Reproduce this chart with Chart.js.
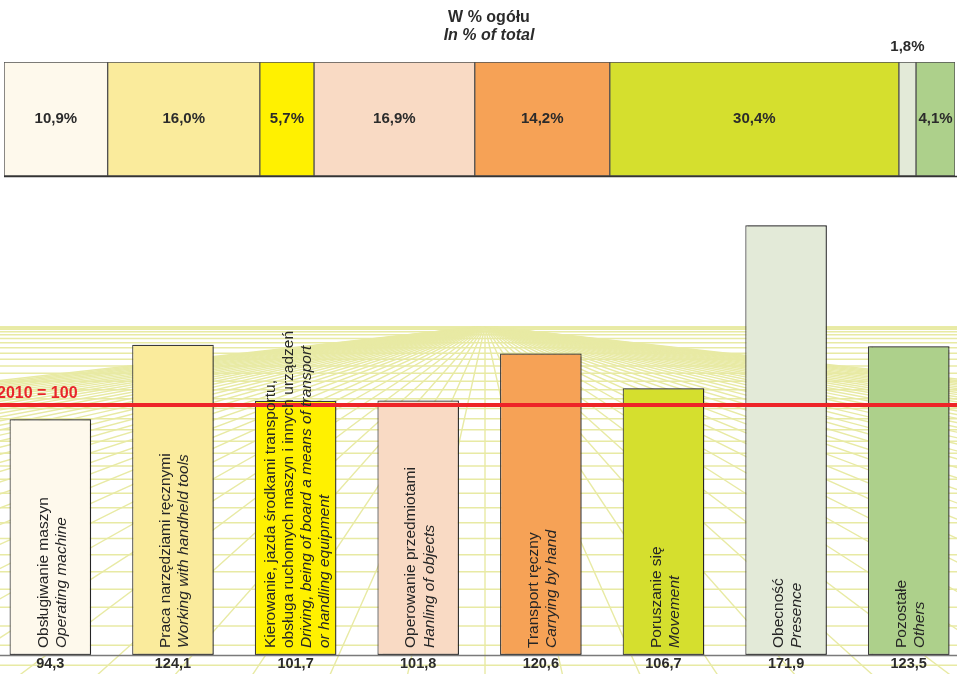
<!DOCTYPE html>
<html>
<head>
<meta charset="utf-8">
<script src="https://cdn.jsdelivr.net/npm/chart.js@4.4.1/dist/chart.umd.min.js"></script>
<style>
  html, body { margin: 0; padding: 0; background: #fff; overflow: hidden; }
  body { width: 957px; height: 674px; position: relative; }
  #topBox { position: absolute; left: 0; top: 0; width: 957px; height: 190px; }
  #botBox { position: absolute; left: -11px; top: 190px; width: 981px; height: 484px; }
</style>
</head>
<body>
<div id="topBox"><canvas id="share-chart"></canvas></div>
<div id="botBox"><canvas id="index-chart"></canvas></div>
<script>
// dane
const labelsPL = ['Obsługiwanie maszyn', 'Praca narzędziami ręcznymi',
  ['Kierowanie, jazda środkami transportu,', 'obsługa ruchomych maszyn i innych urządzeń'],
  'Operowanie przedmiotami', 'Transport ręczny', 'Poruszanie się', 'Obecność', 'Pozostałe'];
const labelsEN = ['Operating machine', 'Working with handheld tools',
  ['Driving, being of board a means of transport', 'or handling equipment'],
  'Hanling of objects', 'Carrying by hand', 'Movement', 'Presence', 'Others'];
const sharePct = [10.9, 16.0, 5.7, 16.9, 14.2, 30.4, 1.8, 4.1];   // W % ogółu
const index2010 = [94.3, 124.1, 101.7, 101.8, 120.6, 106.7, 171.9, 123.5]; // 2010 = 100
const barColors = ['#FEF9EC', '#FAEB9C', '#FFF100', '#F9DAC4', '#F6A256', '#D5DF2E', '#E3EAD8', '#ADD08B'];
const baseLine = 100;

const FONT = '"Liberation Sans", Arial, sans-serif';
function fmt(v){ return v.toFixed(1).replace('.', ','); }

// --- gorny pasek: struktura w % ---
const shareLabels = {
  id: 'shareLabels',
  afterDraw(chart) {
    const ctx = chart.ctx;
    ctx.save();
    ctx.fillStyle = '#2b2b2b';
    ctx.textAlign = 'center';
    ctx.textBaseline = 'middle';
    ctx.font = 'bold 16px ' + FONT;
    ctx.fillText('W % ogółu', 489, 18);
    ctx.font = 'italic bold 16px ' + FONT;
    ctx.fillText('In % of total', 489, 36);
    ctx.font = 'bold 15px ' + FONT;
    chart.data.datasets.forEach((ds, i) => {
      const el = chart.getDatasetMeta(i).data[0];
      const txt = fmt(ds.data[0]) + '%';
      if (ds.data[0] < 3) {
        ctx.fillText(txt, el.x - (el.x - el.base) / 2, 47);
      } else {
        ctx.fillText(txt, el.x - (el.x - el.base) / 2, el.y);
      }
    });
    // dolna linia
    const a = chart.chartArea;
    ctx.strokeStyle = '#333';
    ctx.lineWidth = 1.5;
    ctx.beginPath();
    ctx.moveTo(a.left, a.bottom + 0.5);
    ctx.lineTo(957, a.bottom + 0.5);
    ctx.stroke();
    ctx.restore();
  }
};

new Chart(document.getElementById('share-chart'), {
  type: 'bar',
  data: {
    labels: ['ogółem'],
    datasets: sharePct.map((v, i) => ({
      label: labelsEN[i],
      data: [v],
      backgroundColor: barColors[i],
      borderColor: '#505050',
      borderWidth: 1,
      borderSkipped: false,
      barPercentage: 1,
      categoryPercentage: 1
    }))
  },
  options: {
    indexAxis: 'y',
    responsive: true,
    maintainAspectRatio: false,
    animation: false,
    layout: { padding: { left: 4, right: 2, top: 62, bottom: 14 } },
    plugins: { legend: { display: false }, tooltip: { enabled: false } },
    scales: {
      x: { stacked: true, min: 0, max: 100, display: false },
      y: { stacked: true, display: false }
    }
  },
  plugins: [shareLabels]
});

// --- dolny wykres: 2010 = 100 ---
// tlo: perspektywiczna siatka
const gridBg = {
  id: 'gridBg',
  beforeDatasetsDraw(chart) {
    const ctx = chart.ctx;
    const W = chart.width, H = chart.height;
    const vx = 496, vy = 136;
    ctx.save();
    ctx.beginPath();
    ctx.rect(0, vy, W, H - vy);
    ctx.clip();
    ctx.fillStyle = '#EAECAA';
    ctx.fillRect(0, vy, W, 3);
    ctx.strokeStyle = '#E8EAA4';
    ctx.lineWidth = 1.6;
    for (let n = 1; n < 34; n++) {
      const y = vy + 0.3 * n * n + n;
      ctx.beginPath();
      ctx.moveTo(0, y);
      ctx.lineTo(W, y);
      ctx.stroke();
    }
    ctx.lineWidth = 1.4;
    for (let k = -40; k <= 40; k++) {
      ctx.beginPath();
      ctx.moveTo(vx, vy);
      ctx.lineTo(vx + k * 80, vy + 360);
      ctx.stroke();
    }
    ctx.restore();
    // cien slupkow
    ctx.save();
    ctx.shadowColor = 'rgba(0,0,0,0.35)';
    ctx.shadowOffsetX = 2;
    ctx.shadowOffsetY = 0;
    ctx.shadowBlur = 1;
  },
  afterDatasetsDraw(chart) {
    chart.ctx.restore();
  }
};

const indexDecor = {
  id: 'indexDecor',
  afterDatasetsDraw(chart) {
    const ctx = chart.ctx;
    const ys = chart.scales.y;
    const meta = chart.getDatasetMeta(0);
    ctx.save();
    // linia bazowa
    ctx.strokeStyle = '#7a7a7a';
    ctx.lineWidth = 1.5;
    ctx.beginPath();
    ctx.moveTo(0, ys.getPixelForValue(0) + 0.5);
    ctx.lineTo(chart.width, ys.getPixelForValue(0) + 0.5);
    ctx.stroke();
    // czerwona linia 2010 = 100
    const yr = ys.getPixelForValue(baseLine);
    ctx.strokeStyle = '#EE2428';
    ctx.lineWidth = 4;
    ctx.beginPath();
    ctx.moveTo(0, yr);
    ctx.lineTo(chart.width, yr);
    ctx.stroke();
    ctx.fillStyle = '#E8262B';
    ctx.font = 'bold 16px ' + FONT;
    ctx.textAlign = 'left';
    ctx.textBaseline = 'alphabetic';
    ctx.fillText('2010 = 100', 8, yr - 7);
    // podpisy w slupkach (pionowo)
    const lh = 18;
    meta.data.forEach((bar, i) => {
      const pl = [].concat(labelsPL[i]);
      const en = [].concat(labelsEN[i]);
      const lines = pl.map(t => ({ t, it: false })).concat(en.map(t => ({ t, it: true })));
      ctx.save();
      ctx.translate(bar.x + 2, ys.getPixelForValue(0) - 7);
      ctx.rotate(-Math.PI / 2);
      ctx.fillStyle = '#262626';
      ctx.textAlign = 'left';
      ctx.textBaseline = 'middle';
      lines.forEach((ln, j) => {
        ctx.font = (ln.it ? 'italic ' : '') + '15.5px ' + FONT;
        ctx.fillText(ln.t, 0, (j - (lines.length - 1) / 2) * lh);
      });
      ctx.restore();
      // wartosci pod slupkami
      ctx.fillStyle = '#2b2b2b';
      ctx.font = 'bold 14.5px ' + FONT;
      ctx.textAlign = 'center';
      ctx.textBaseline = 'middle';
      ctx.fillText(fmt(index2010[i]), bar.x, ys.getPixelForValue(0) + 9);
    });
    ctx.restore();
  }
};

new Chart(document.getElementById('index-chart'), {
  type: 'bar',
  data: {
    labels: labelsEN.map(l => [].concat(l).join(' ')),
    datasets: [{
      label: '2010 = 100',
      data: index2010,
      backgroundColor: barColors,
      borderColor: '#3a3a3a',
      borderWidth: 1.2,
      borderSkipped: false,
      barPercentage: 0.665,
      categoryPercentage: 1
    }]
  },
  options: {
    responsive: true,
    maintainAspectRatio: false,
    animation: false,
    layout: { padding: { left: 0, right: 0, top: 15, bottom: 19 } },
    plugins: { legend: { display: false }, tooltip: { enabled: false } },
    scales: {
      x: { display: false },
      y: { display: false, min: 0, max: 180 }
    }
  },
  plugins: [gridBg, indexDecor]
});
</script>
</body>
</html>
